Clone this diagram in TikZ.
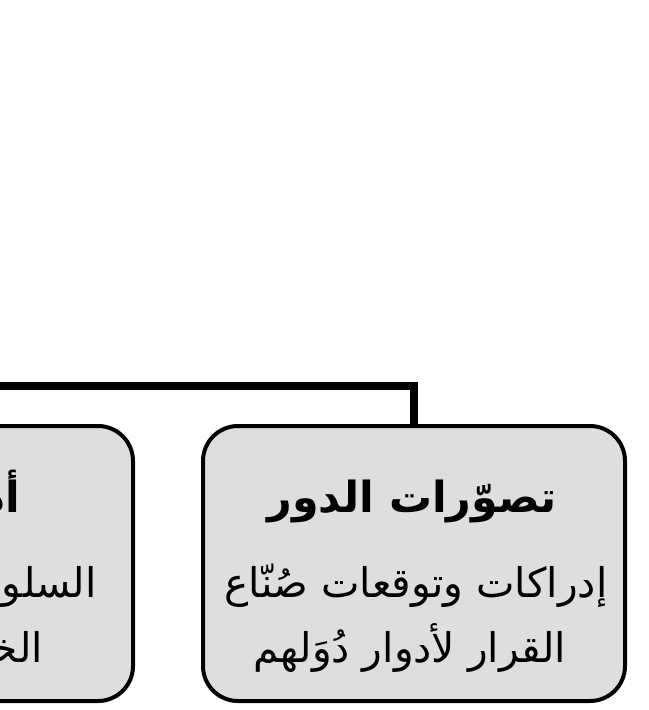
\documentclass[tikz,border=0pt]{standalone}
\usepackage{fontspec}
\newfontfamily\arabicfont[Script=Arabic]{DejaVu Sans}
\TeXXeTstate=1
\definecolor{boxfill}{RGB}{222,222,222}
\tikzset{
  rolebox/.style={draw=black, line width=4bp, fill=boxfill, rounded corners=35bp,
    minimum width=422bp, minimum height=275bp, inner sep=0pt},
  titletext/.style={inner sep=0pt, font=\arabicfont\bfseries\fontsize{43}{50}\selectfont},
  bodytext/.style={inner sep=0pt, font=\arabicfont\fontsize{41}{48}\selectfont},
  link/.style={draw=black, line width=8bp, line join=miter, line cap=rect}
}
\begin{document}
\begin{tikzpicture}[x=1bp, y=-1bp]
\useasboundingbox (0,0) rectangle (649,710);
\clip (0,0) rectangle (649,710);
\fill[white] (0,0) rectangle (649,710);
% connector
\coordinate (lft) at (-78,386);
\node[rolebox] (perf) at (-78,563.5) {};
\node[rolebox] (conc) at (414,563.5) {};
\draw[link] (conc.north) -- (conc.north |- lft) -- (lft);
% right box text
\node[titletext, anchor=base] (c1) at (412,512) {\beginR تصوّرات الدور\endR};
\node[bodytext, anchor=base] (c2) at (416,597) {\beginR إدراكات وتوقعات صُنّاع\endR};
\node[bodytext, anchor=base] (c3) at (410,662) {\beginR القرار لأدوار دُوَلهم\endR};
% left box text (mostly outside the picture)
\node[titletext, anchor=base east] (p1) at (20,512) {\beginR أداء الدور\endR};
\node[bodytext, anchor=base east] (p2) at (97,597) {\beginR السلوك الفعلي في السياسة\endR};
\node[bodytext, anchor=base east] (p3) at (43,662) {\beginR الخارجية للدولة\endR};
\end{tikzpicture}
\end{document}
